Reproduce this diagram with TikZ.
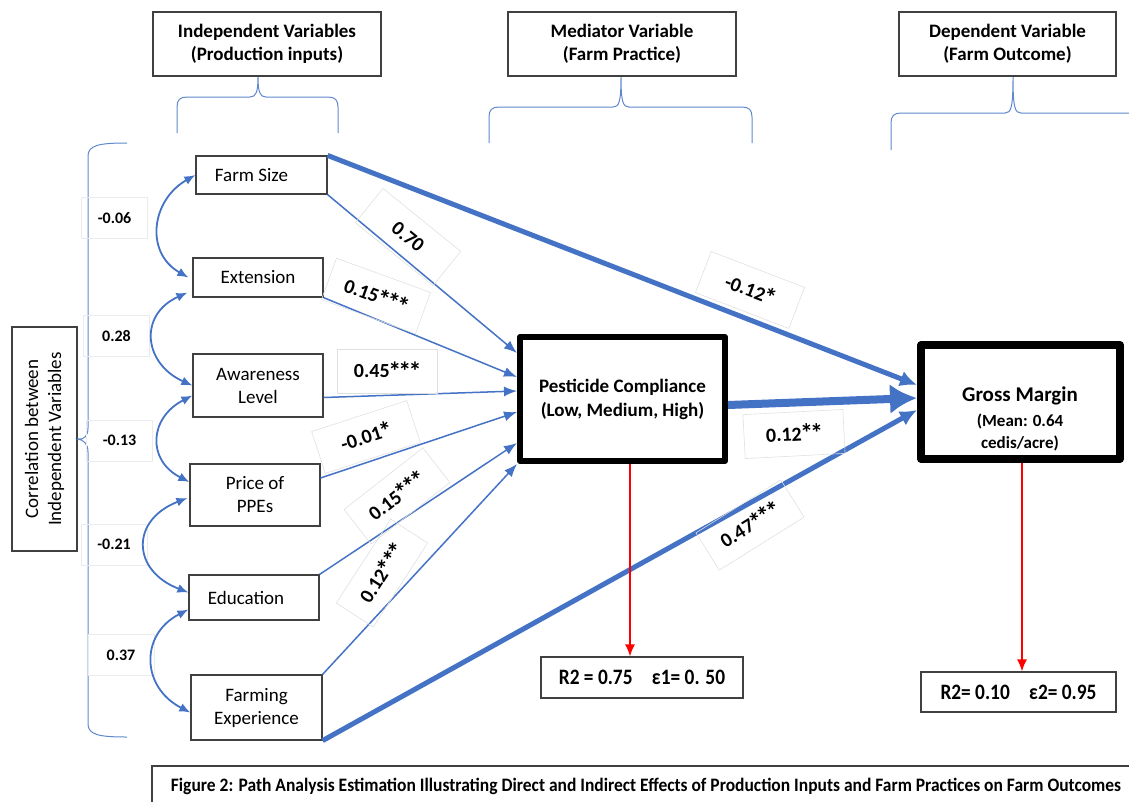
\documentclass[tikz,border=0pt]{standalone}
\usepackage{fontspec}
\setmainfont{Carlito}
\usetikzlibrary{arrows.meta}
\definecolor{pathblue}{HTML}{4472C4}
\definecolor{boxgray}{HTML}{404040}
\newcommand\HeadBrace[5]{% tip x, left x, right x, bar y, end y
  \draw[brace] (#2,#5) -- (#2,#4+10) .. controls (#2,#4+3) and (#2+3,#4) .. (#2+10,#4)
    -- (#1-8,#4) .. controls (#1-2,#4) and (#1,#4-5) .. (#1,77)
    .. controls (#1,#4-5) and (#1+2,#4) .. (#1+8,#4)
    -- (#3-10,#4) .. controls (#3-3,#4) and (#3,#4+3) .. (#3,#4+10) -- (#3,#5);
}
\newcommand\st{\kern-0.07em\raisebox{-0.12em}{\scalebox{1.3}{*}}\kern-0.07em}% significance star
\tikzset{%
  >=latex,
  head/.style={draw=boxgray,line width=1.2pt,align=center,inner sep=0pt,
    font=\bfseries\fontsize{19}{23}\selectfont},
  varbox/.style={draw=boxgray,line width=1.2pt,align=center,inner sep=0pt,
    font=\fontsize{19}{23}\selectfont},
  bigbox/.style={draw=black,line width=6pt,line join=round,align=center,inner sep=0pt,
    font=\bfseries\fontsize{19}{24}\selectfont},
  coef/.style={draw=black!12,line width=0.6pt,inner sep=0pt,minimum width=100pt,
    minimum height=44pt,font=\bfseries\fontsize{20}{22}\selectfont},
  corrlab/.style={draw=black!8,line width=0.6pt,inner sep=0pt,minimum width=66pt,
    minimum height=41pt,font=\bfseries\fontsize{16}{18}\selectfont},
  resbox/.style={draw=boxgray,line width=1.2pt,inner sep=0pt,
    font=\bfseries\fontsize{22}{24}\selectfont},
  effect/.style={draw=pathblue,line width=1.5pt,-{Latex[length=13pt,width=10pt]}},
  bigeffect/.style={draw=pathblue,line width=5pt,-{Latex[length=17pt,width=16pt]}},
  corr/.style={draw=pathblue,line width=1.8pt,
    {Latex[length=11pt,width=9pt]}-{Latex[length=11pt,width=9pt]}},
  brace/.style={draw=pathblue!85,line width=1pt},
  resid/.style={draw=red,line width=1.4pt,-{Latex[length=12pt,width=10pt]}}
}
\begin{document}
\begin{tikzpicture}[x=1pt,y=-1pt]
\useasboundingbox (0,0) rectangle (1129,801);

% column headers and their braces
\node[head,minimum width=228pt,minimum height=64pt] (hind) at (267,44) {Independent Variables\\(Production inputs)};
\node[head,minimum width=228pt,minimum height=64pt] (hmed) at (622,44) {Mediator Variable\\(Farm Practice)};
\node[head,minimum width=217pt,minimum height=64pt] (hdep) at (1007.5,44) {Dependent Variable\\(Farm Outcome)};
\HeadBrace{258}{177}{338}{97}{133}
\HeadBrace{621}{489}{752}{107}{143}
\HeadBrace{1013}{891}{1150}{113}{150}

% production inputs
\node[varbox,minimum width=131pt,minimum height=38pt] (fs) at (261.5,175) {Farm Size\hspace{20pt}};
\node[varbox,minimum width=130pt,minimum height=39pt] (ext) at (258,277.5) {Extension};
\node[varbox,minimum width=130pt,minimum height=63pt] (aw) at (258,385.5) {Awareness\\Level};
\node[varbox,minimum width=130pt,minimum height=62pt] (ppe) at (255,495) {Price of\\PPEs};
\node[varbox,minimum width=130pt,minimum height=45pt] (edu) at (254,597.5) {Education\hspace{16pt}};
\node[varbox,minimum width=131pt,minimum height=65pt] (fexp) at (256.5,707.5) {Farming\\Experience};

% correlations
\node[varbox,rotate=90,minimum width=224pt,minimum height=65pt] (corrbox) at (44.5,439) {Correlation between\\Independent Variables};
\draw[brace] (127,143) .. controls (100,143) and (88,145) .. (88,156) -- (88,428)
  .. controls (88,436) and (84,440) .. (corrbox.south)
  .. controls (84,440) and (88,444) .. (88,452) -- (88,724)
  .. controls (88,735) and (100,737) .. (127,737);
\node[corrlab] (r1) at (114.5,218) {-0.06};
\node[corrlab] (r2) at (116.5,336) {0.28};
\node[corrlab] (r3) at (119.5,440.5) {-0.13};
\node[corrlab] (r4) at (114,544.5) {-0.21};
\node[corrlab] (r5) at (121,655) {0.37};
\draw[corr] (fs.west) .. controls +(-44,25) and +(-44,-25) .. ([xshift=-4pt]ext.west);
\draw[corr] ([xshift=-5pt,yshift=5pt]ext.south west) .. controls +(-49,22) and +(-49,-22) .. (aw.west);
\draw[corr] ([yshift=-10pt]aw.west) .. controls +(-43,22) and +(-43,-22) .. ([yshift=13pt]ppe.west);
\draw[corr] ([xshift=-2pt,yshift=-3pt]ppe.west) .. controls +(-57,22) and +(-57,-22) .. ([yshift=5pt]edu.west);
\draw[corr] ([yshift=-12pt]edu.west) .. controls +(-49,25) and +(-49,-25) .. ([yshift=-5pt]fexp.west);

% mediator and outcome
\node[bigbox,minimum width=205pt,minimum height=124pt] (pc) at (622.5,399) {Pesticide Compliance\\(Low, Medium, High)};
\node[bigbox,line width=8pt,minimum width=199pt,minimum height=114pt] (gm) at (1020.5,402) {};
\node[align=center,font=\bfseries\fontsize{17}{22}\selectfont] (gmtext) at (1020,419)
  {{\fontsize{21}{24}\selectfont Gross Margin}\\[3pt](Mean: 0.64\\cedis/acre)};

% indirect paths
\draw[effect] (fs.south east) -- ([yshift=46pt]pc.west);
\draw[effect] (ext.south east) -- ([yshift=22pt]pc.west);
\draw[effect] ([yshift=-12pt]aw.east) -- ([yshift=8pt]pc.west);
\draw[effect] ([yshift=17pt]ppe.east) -- ([yshift=-13pt]pc.west);
\draw[effect] (edu.north east) -- ([yshift=-44pt]pc.west);
\draw[effect] (fexp.north east) -- (pc.south west);

% direct paths
\draw[bigeffect] (fs.north east) -- ([yshift=17pt]gm.west);
\draw[bigeffect,line width=8pt,-{Latex[length=27pt,width=30pt]}] ([yshift=-6pt]pc.east) -- ([yshift=4pt]gm.west);
\draw[bigeffect] (fexp.south east) -- ([yshift=-8pt]gm.west);

% path coefficients
\node[coef,rotate=-39] (b1) at (408,237) {0.70};
\node[coef,rotate=-20] (b2) at (376,296) {0.15\st\st\st};
\node[coef] (b3) at (387,371) {0.45\st\st\st};
\node[coef,rotate=18] (b4) at (366,437) {-0.01\st};
\node[coef,rotate=38] (b5) at (397,496) {0.15\st\st\st};
\node[coef,rotate=57] (b6) at (382,573) {0.12\st\st\st};
\node[coef,rotate=-21] (b7) at (750,290) {-0.12\st};
\node[coef,rotate=3] (b8) at (794,434) {0.12\st\st};
\node[coef,rotate=32] (b9) at (750,525) {0.47\st\st\st};

% residuals
\node[resbox,minimum width=202pt,minimum height=41pt] (res1) at (642,677.5) {\scalebox{0.88}[1]{R2 = 0.75\quad ε1= 0. 50}};
\node[resbox,minimum width=195pt,minimum height=40pt] (res2) at (1018.5,692) {\scalebox{0.88}[1]{R2= 0.10\quad ε2= 0.95}};
\draw[resid] ([xshift=7.5pt]pc.south) -- ([xshift=7.5pt]pc.south |- res1.north);
\draw[resid] ([xshift=1.5pt]gm.south) -- ([xshift=1.5pt]gm.south |- res2.north);

% caption
\node[draw=boxgray,line width=1.2pt,minimum width=988pt,minimum height=40pt,
  font=\bfseries\fontsize{19}{22}\selectfont] (cap) at (646,786)
  {\scalebox{0.92}[1]{Figure 2: Path Analysis Estimation Illustrating Direct and Indirect Effects of Production Inputs and Farm Practices on Farm Outcomes}};
\end{tikzpicture}
\end{document}
